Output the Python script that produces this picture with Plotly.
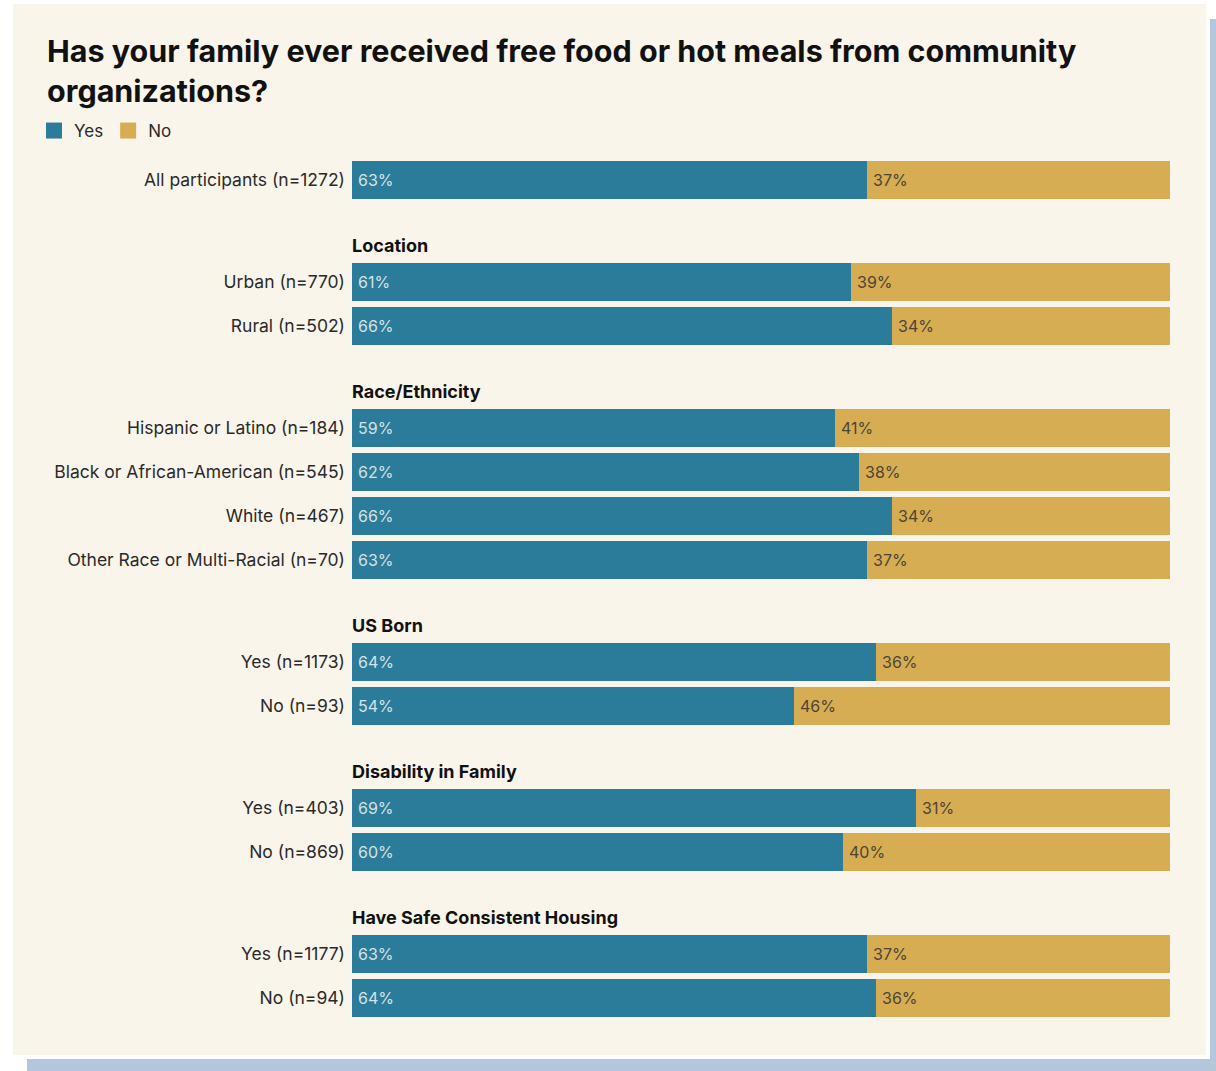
import plotly.graph_objects as go

# ---- data ----
group_titles = ["", "Location", "Race/Ethnicity", "US Born",
                "Disability in Family", "Have Safe Consistent Housing"]
row_labels = [
    "All participants (n=1272)",
    "Urban (n=770)", "Rural (n=502)",
    "Hispanic or Latino (n=184)", "Black or African-American (n=545)",
    "White (n=467)", "Other Race or Multi-Racial (n=70)",
    "Yes (n=1173)", "No (n=93)",
    "Yes (n=403)", "No (n=869)",
    "Yes (n=1177)", "No (n=94)",
]
row_group = [0, 1, 1, 2, 2, 2, 2, 3, 3, 4, 4, 5, 5]
yes_pct = [63, 61, 66, 59, 62, 66, 63, 64, 54, 69, 60, 63, 64]
no_pct = [37, 39, 34, 41, 38, 34, 37, 36, 46, 31, 40, 37, 36]

# ---- styling ----
W, H = 1216, 1071
YES_C = "#2b7b9a"
NO_C = "#d6ad52"
CARD = "#faf5eb"
SHADOW = "#b3c6dc"
FONT = "Inter"

# plot area in pixels
PL, PR, PT, PB = 352, 1170, 150, 1030
ROW_STEP, GROUP_GAP, FIRST_ROW = 44, 58, 179.5

# vertical axis uses pixel-like units (top to bottom)
ypos = [FIRST_ROW + i * ROW_STEP + g * GROUP_GAP for i, g in enumerate(row_group)]


def px_x(p):
    return (p - PL) / (PR - PL)


def px_y(p):
    return (PB - p) / (PB - PT)


fig = go.Figure()
fig.add_trace(go.Bar(
    x=yes_pct, y=ypos, orientation="h", width=38, name="Yes",
    marker=dict(color=YES_C, line=dict(width=0)), showlegend=False,
    hoverinfo="x",
))
fig.add_trace(go.Bar(
    x=no_pct, y=ypos, orientation="h", width=38, name="No",
    marker=dict(color=NO_C, line=dict(width=0)), showlegend=False,
    hoverinfo="x",
))

# legend entries
for nm, c in (("Yes", YES_C), ("No", NO_C)):
    fig.add_trace(go.Scatter(
        x=[None], y=[None], mode="markers", name=nm,
        marker=dict(symbol="square", size=20, color=c),
    ))

annotations = []
# value labels inside bars
for y, a, b in zip(ypos, yes_pct, no_pct):
    annotations.append(dict(
        x=0, y=y, xref="x", yref="y", text=f"{a}%", showarrow=False,
        xanchor="left", yanchor="middle", xshift=4,
        font=dict(family=FONT, size=16, color="#d6e3e6"),
    ))
    annotations.append(dict(
        x=a, y=y, xref="x", yref="y", text=f"{b}%", showarrow=False,
        xanchor="left", yanchor="middle", xshift=4,
        font=dict(family=FONT, size=16, color="#4d4434"),
    ))

# group headers
seen = set()
for y, g in zip(ypos, row_group):
    if g == 0 or g in seen:
        continue
    seen.add(g)
    annotations.append(dict(
        x=0, y=y - 36.5, xref="paper", yref="y", text=group_titles[g],
        showarrow=False, xanchor="left", yanchor="middle", xshift=-2,
        font=dict(family=FONT, size=18, color="#111111", weight=700),
    ))

shapes = [
    # shadow
    dict(type="rect", xref="paper", yref="paper", layer="below",
         x0=px_x(27), x1=px_x(1230), y0=px_y(19), y1=px_y(1085),
         fillcolor=SHADOW, line=dict(width=0)),
    # white border
    dict(type="rect", xref="paper", yref="paper", layer="below",
         x0=px_x(9), x1=px_x(1210), y0=px_y(0), y1=px_y(1059),
         fillcolor="#ffffff", line=dict(width=0)),
    # card
    dict(type="rect", xref="paper", yref="paper", layer="below",
         x0=px_x(13), x1=px_x(1206), y0=px_y(4), y1=px_y(1055),
         fillcolor=CARD, line=dict(width=0)),
]

fig.update_layout(
    width=W, height=H,
    margin=dict(l=PL, r=W - PR, t=PT, b=H - PB, pad=0),
    paper_bgcolor="#ffffff", plot_bgcolor="rgba(0,0,0,0)",
    barmode="stack", bargap=0,
    font=dict(family=FONT, color="#2a2a2a"),
    title=dict(
        text="Has your family ever received free food or hot meals from community<br>organizations?",
        xref="container", yref="container", x=47 / W, xanchor="left",
        y=1 - 62 / H, yanchor="top",
        font=dict(family=FONT, size=30.5, color="#111111", weight=700),
    ),
    xaxis=dict(range=[0, 100], visible=False, fixedrange=True),
    yaxis=dict(
        range=[PB, PT], tickvals=ypos, ticktext=row_labels,
        showgrid=False, zeroline=False, showline=False, ticks="",
        ticklabelstandoff=6,
        tickfont=dict(family=FONT, size=17.5, color="#2a2a2a"),
        fixedrange=True,
    ),
    legend=dict(
        orientation="h", x=px_x(34), xanchor="left", y=px_y(131),
        yanchor="middle", bgcolor="rgba(0,0,0,0)", traceorder="normal",
        font=dict(family=FONT, size=17, color="#2a2a2a"),
        itemwidth=30, tracegroupgap=0,
    ),
    annotations=annotations,
    shapes=shapes,
    showlegend=True,
)

fig.write_html("out.html")
